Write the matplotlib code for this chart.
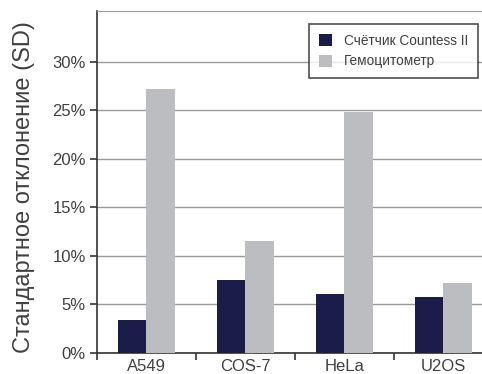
import numpy as np
import matplotlib.pyplot as plt
from matplotlib.ticker import FixedLocator, PercentFormatter

plt.rcParams['font.family'] = ['Liberation Sans', 'DejaVu Sans']

cell_lines = ['A549', 'COS-7', 'HeLa', 'U2OS']
countess = [3.4, 7.5, 6.05, 5.75]
hemocytometer = [27.2, 11.5, 24.85, 7.2]
series_labels = ['Счётчик Countess II', 'Гемоцитометр']

text_color = '#404040'
navy = '#1c1c4b'
grey = '#bcbdc1'

fig = plt.figure(figsize=(4.82, 3.74), dpi=100)
ax = fig.add_axes([97 / 482, 1 - 353 / 374, 1 - 97 / 482, (353 - 11) / 374])

x = np.arange(len(cell_lines))
w = 0.29
ax.bar(x - w / 2, countess, w, color=navy, label=series_labels[0], zorder=3)
ax.bar(x + w / 2, hemocytometer, w, color=grey, label=series_labels[1], zorder=3)

ax.set_xlim(-0.5, 3.39)
ax.set_ylim(0, 35.25)

ax.set_yticks(np.arange(0, 31, 5))
ax.yaxis.set_major_formatter(PercentFormatter(decimals=0))
ax.yaxis.grid(True, color='#9a9a9a', linewidth=1.0, zorder=0)

ax.set_xticks(x)
ax.set_xticklabels(cell_lines)
ax.tick_params(axis='x', which='major', length=0, pad=4, labelsize=12, labelcolor=text_color)
ax.xaxis.set_minor_locator(FixedLocator(np.arange(-0.5, 3.5, 1.0)))
ax.tick_params(axis='x', which='minor', length=5, width=1.2, color='#333333')
ax.tick_params(axis='y', length=5, width=1.2, color='#333333', pad=3,
               labelsize=12, labelcolor=text_color)

for side in ['left', 'bottom']:
    ax.spines[side].set_color('#333333')
    ax.spines[side].set_linewidth(1.2)
ax.spines['top'].set_color('#9a9a9a')
ax.spines['right'].set_visible(False)

ax.set_ylabel('Стандартное отклонение (SD)', fontsize=17, color=text_color,
              va='center', ha='center')
ax.yaxis.set_label_coords(-0.19, 0.485)

leg = ax.legend(loc='upper right', bbox_to_anchor=(0.99, 0.962), fontsize=9.8,
                frameon=True, fancybox=False, edgecolor='#222222', handlelength=1.0,
                handleheight=1.0, labelspacing=0.5, borderpad=0.7, handletextpad=0.9,
                borderaxespad=0)
leg.get_frame().set_linewidth(1.2)
for t in leg.get_texts():
    t.set_color(text_color)

fig.savefig('out.png', dpi=100)
